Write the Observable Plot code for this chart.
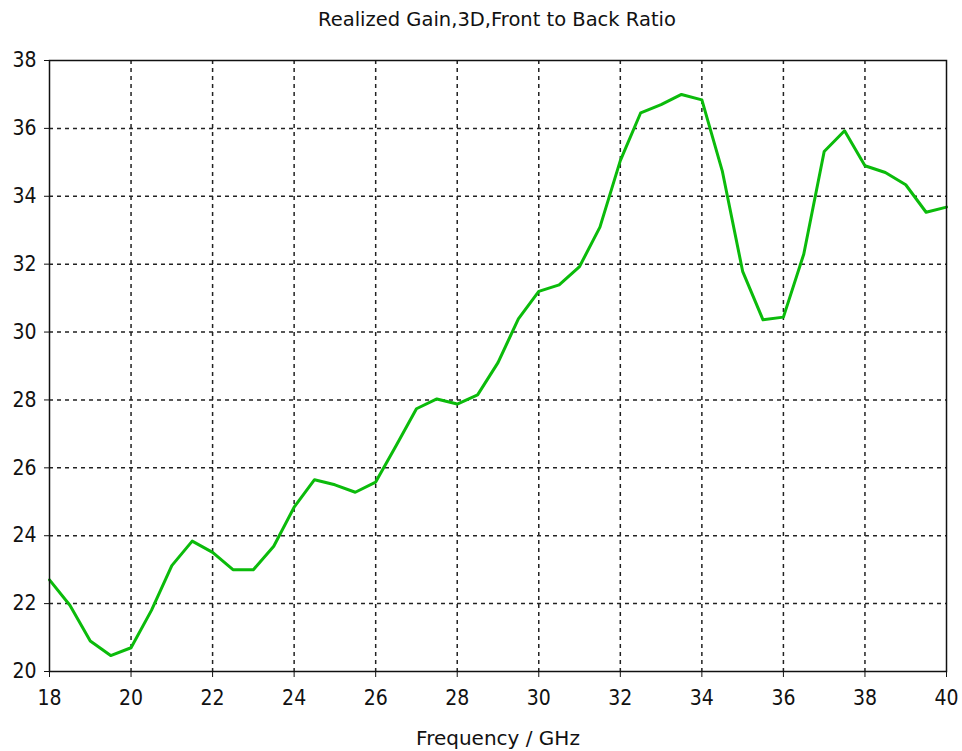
<!DOCTYPE html>
<html>
<head>
<meta charset="utf-8">
<script src="https://cdn.jsdelivr.net/npm/d3@7"></script>
<script src="https://cdn.jsdelivr.net/npm/@observablehq/plot@0.6"></script>
<style>
  html, body { margin: 0; padding: 0; background: #fff; }
  #title { height: 40px; line-height: 40px; box-sizing: border-box; padding-left: 32px; text-align: center;
    font-family: "DejaVu Sans", sans-serif; font-size: 19.5px; color: #111; }
</style>
</head>
<body>
<div id="title">Realized Gain,3D,Front to Back Ratio</div>
<div id="chart"></div>
<script>
const freq = [18, 18.5, 19, 19.5, 20, 20.5, 21, 21.5, 22, 22.5, 23, 23.5, 24, 24.5, 25, 25.5, 26, 26.5, 27, 27.5, 28, 28.5, 29, 29.5, 30, 30.5, 31, 31.5, 32, 32.5, 33, 33.5, 34, 34.5, 35, 35.5, 36, 36.5, 37, 37.5, 38, 38.5, 39, 39.5, 40];
const gain = [22.7, 21.95, 20.9, 20.47, 20.7, 21.8, 23.12, 23.84, 23.51, 23.0, 23.0, 23.69, 24.84, 25.65, 25.5, 25.28, 25.58, 26.65, 27.74, 28.03, 27.88, 28.15, 29.1, 30.39, 31.2, 31.39, 31.93, 33.09, 35.05, 36.46, 36.7, 37.0, 36.84, 34.75, 31.79, 30.36, 30.44, 32.3, 35.32, 35.93, 34.9, 34.7, 34.34, 33.53, 33.68];
const xTicks = [18, 20, 22, 24, 26, 28, 30, 32, 34, 36, 38, 40];
const yTicks = [20, 22, 24, 26, 28, 30, 32, 34, 36, 38];

const data = freq.map((f, i) => ({f, g: gain[i]}));

const chart = Plot.plot({
  width: 962,
  height: 711,
  marginTop: 20,
  marginBottom: 80,
  marginLeft: 49,
  marginRight: 16,
  style: { fontFamily: '"DejaVu Sans Condensed", "DejaVu Sans", sans-serif', fontSize: "21px", color: "#111", background: "#fff" },
  x: { domain: [18, 40] },
  y: { domain: [20, 38] },
  marks: [
    Plot.gridX(xTicks.slice(1, -1), { stroke: "#222", strokeOpacity: 1, strokeWidth: 1.5, strokeDasharray: "4,4" }),
    Plot.gridY(yTicks.slice(1, -1), { stroke: "#222", strokeOpacity: 1, strokeWidth: 1.5, strokeDasharray: "4,4" }),
    Plot.line(data, { x: "f", y: "g", stroke: "#0bbb0b", strokeWidth: 3 }),
    Plot.frame({ stroke: "#111", strokeWidth: 1.5 }),
    Plot.axisX(xTicks, { tickSize: 6, tickPadding: 13, fontSize: 21, label: null }),
    Plot.axisX({ ticks: [], tickSize: 0, fontFamily: '"DejaVu Sans", sans-serif', fontSize: 20, label: "Frequency / GHz", labelAnchor: "center", labelArrow: "none", labelOffset: 73 }),
    Plot.axisY(yTicks, { tickSize: 5, tickPadding: 8, fontSize: 21, label: null })
  ]
});
document.getElementById("chart").appendChild(chart);
</script>
</body>
</html>
